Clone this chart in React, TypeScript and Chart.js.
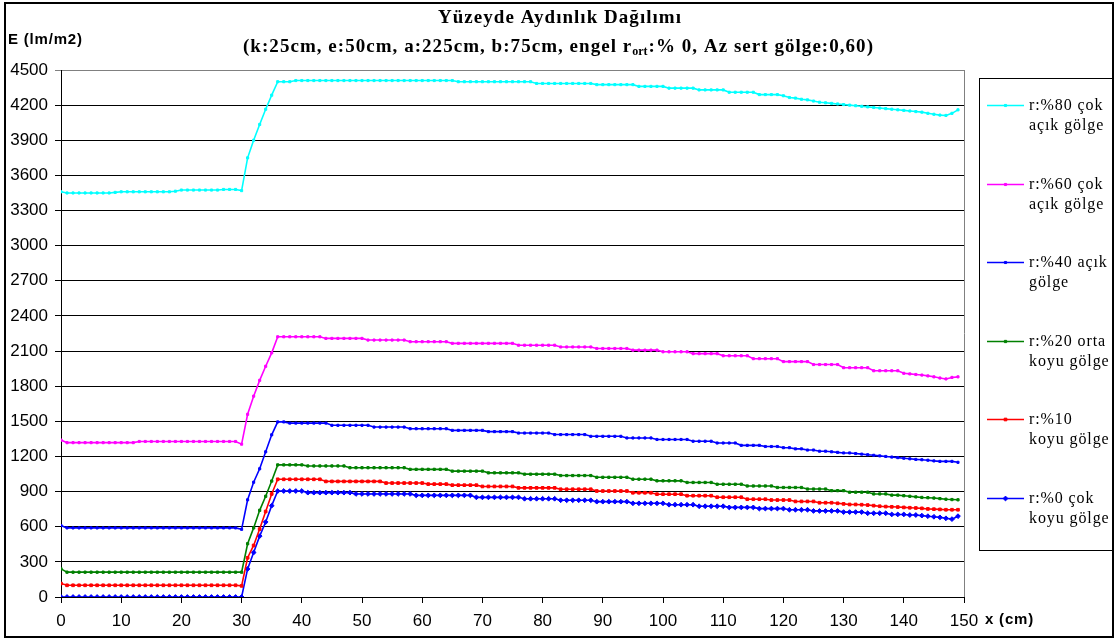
import React, { useEffect, useRef } from "react";
import { Chart, registerables } from "chart.js";

Chart.register(...registerables);

// ---------- DATA ----------
const X_CM = [
  0, 1, 2, 3, 4, 5, 6, 7, 8, 9,
  10, 11, 12, 13, 14, 15, 16, 17, 18, 19,
  20, 21, 22, 23, 24, 25, 26, 27, 28, 29,
  30, 31, 32, 33, 34, 35, 36, 37, 38, 39,
  40, 41, 42, 43, 44, 45, 46, 47, 48, 49,
  50, 51, 52, 53, 54, 55, 56, 57, 58, 59,
  60, 61, 62, 63, 64, 65, 66, 67, 68, 69,
  70, 71, 72, 73, 74, 75, 76, 77, 78, 79,
  80, 81, 82, 83, 84, 85, 86, 87, 88, 89,
  90, 91, 92, 93, 94, 95, 96, 97, 98, 99,
  100, 101, 102, 103, 104, 105, 106, 107, 108, 109,
  110, 111, 112, 113, 114, 115, 116, 117, 118, 119,
  120, 121, 122, 123, 124, 125, 126, 127, 128, 129,
  130, 131, 132, 133, 134, 135, 136, 137, 138, 139,
  140, 141, 142, 143, 144, 145, 146, 147, 148, 149,
];

const E_R80 = [
  3460, 3450, 3450, 3450, 3450, 3450, 3450, 3450, 3450, 3455,
  3460, 3460, 3460, 3460, 3460, 3460, 3460, 3460, 3460, 3465,
  3475, 3475, 3475, 3475, 3475, 3475, 3475, 3480, 3480, 3480,
  3470, 3750, 3900, 4035, 4165, 4285, 4400, 4400, 4400, 4410,
  4410, 4410, 4410, 4410, 4410, 4410, 4410, 4410, 4410, 4410,
  4410, 4410, 4410, 4410, 4410, 4410, 4410, 4410, 4410, 4410,
  4410, 4410, 4410, 4410, 4410, 4410, 4400, 4400, 4400, 4400,
  4400, 4400, 4400, 4400, 4400, 4400, 4400, 4400, 4400, 4385,
  4385, 4385, 4385, 4385, 4385, 4385, 4385, 4385, 4385, 4375,
  4375, 4375, 4375, 4375, 4375, 4375, 4360, 4360, 4360, 4360,
  4360, 4345, 4345, 4345, 4345, 4345, 4330, 4330, 4330, 4330,
  4330, 4310, 4310, 4310, 4310, 4310, 4290, 4290, 4290, 4290,
  4280, 4265, 4260, 4250, 4245, 4235, 4225, 4220, 4215, 4210,
  4205, 4200, 4195, 4190, 4185, 4180, 4175, 4170, 4165, 4160,
  4155, 4150, 4145, 4140, 4130, 4122, 4115, 4112, 4130, 4160,
];

const E_R60 = [
  1340, 1318, 1318, 1318, 1318, 1318, 1318, 1318, 1318, 1318,
  1318, 1318, 1318, 1328, 1328, 1328, 1328, 1328, 1328, 1328,
  1328, 1328, 1328, 1328, 1328, 1328, 1328, 1328, 1328, 1328,
  1305, 1560, 1715, 1850, 1970, 2085, 2222, 2222, 2222, 2222,
  2222, 2222, 2222, 2222, 2208, 2208, 2208, 2208, 2208, 2208,
  2208, 2194, 2194, 2194, 2194, 2194, 2194, 2194, 2180, 2180,
  2180, 2180, 2180, 2180, 2180, 2166, 2166, 2166, 2166, 2166,
  2166, 2166, 2166, 2166, 2166, 2166, 2150, 2150, 2150, 2150,
  2150, 2150, 2150, 2135, 2135, 2135, 2135, 2135, 2135, 2122,
  2122, 2122, 2122, 2122, 2122, 2108, 2108, 2108, 2108, 2108,
  2094, 2094, 2094, 2094, 2094, 2078, 2078, 2078, 2078, 2078,
  2060, 2060, 2060, 2060, 2060, 2035, 2035, 2035, 2035, 2035,
  2010, 2010, 2010, 2010, 2010, 1985, 1985, 1985, 1985, 1985,
  1958, 1958, 1958, 1958, 1958, 1932, 1932, 1932, 1932, 1932,
  1910, 1905, 1900, 1895, 1888, 1880, 1870, 1862, 1875, 1880,
];

const E_R40 = [
  610, 590, 590, 590, 590, 590, 590, 590, 590, 590,
  590, 590, 590, 590, 590, 590, 590, 590, 590, 590,
  590, 590, 590, 590, 590, 590, 590, 590, 590, 590,
  578, 830, 980, 1095, 1240, 1385, 1495, 1495, 1485, 1485,
  1485, 1485, 1485, 1485, 1485, 1466, 1466, 1466, 1466, 1466,
  1466, 1466, 1451, 1451, 1451, 1451, 1451, 1451, 1437, 1437,
  1437, 1437, 1437, 1437, 1437, 1423, 1423, 1423, 1423, 1423,
  1423, 1412, 1412, 1412, 1412, 1412, 1400, 1400, 1400, 1400,
  1400, 1400, 1387, 1387, 1387, 1387, 1387, 1387, 1372, 1372,
  1372, 1372, 1372, 1372, 1358, 1358, 1358, 1358, 1358, 1345,
  1345, 1345, 1345, 1345, 1345, 1330, 1330, 1330, 1330, 1315,
  1315, 1315, 1315, 1295, 1295, 1295, 1295, 1285, 1285, 1285,
  1275, 1275, 1265, 1265, 1255, 1255, 1245, 1245, 1240, 1235,
  1230, 1230, 1225, 1220, 1215, 1210, 1205, 1200, 1195, 1190,
  1185, 1180, 1175, 1172, 1168, 1162, 1158, 1158, 1158, 1150,
];

const E_R20 = [
  240, 212, 212, 212, 212, 212, 212, 212, 212, 212,
  212, 212, 212, 212, 212, 212, 212, 212, 212, 212,
  212, 212, 212, 212, 212, 212, 212, 212, 212, 212,
  212, 455, 590, 740, 860, 990, 1128, 1128, 1128, 1128,
  1128, 1119, 1119, 1119, 1119, 1119, 1119, 1119, 1104, 1104,
  1104, 1104, 1104, 1104, 1104, 1104, 1104, 1104, 1090, 1090,
  1090, 1090, 1090, 1090, 1090, 1075, 1075, 1075, 1075, 1075,
  1075, 1060, 1060, 1060, 1060, 1060, 1060, 1049, 1049, 1049,
  1049, 1049, 1049, 1037, 1037, 1037, 1037, 1037, 1037, 1022,
  1022, 1022, 1022, 1022, 1022, 1006, 1006, 1006, 1006, 992,
  992, 992, 992, 992, 978, 978, 978, 978, 978, 963,
  963, 963, 963, 963, 948, 948, 948, 948, 948, 935,
  935, 935, 935, 935, 922, 922, 922, 922, 908, 908,
  908, 895, 895, 895, 895, 880, 880, 880, 870, 870,
  865, 860, 855, 850, 848, 845, 840, 835, 832, 830,
];

const E_R10 = [
  115, 100, 100, 100, 100, 100, 100, 100, 100, 100,
  100, 100, 100, 100, 100, 100, 100, 100, 100, 100,
  100, 100, 100, 100, 100, 100, 100, 100, 100, 100,
  95, 335, 440, 580, 730, 880, 1005, 1005, 1005, 1005,
  1005, 1005, 1005, 1005, 987, 987, 987, 987, 987, 987,
  987, 987, 987, 987, 973, 973, 973, 973, 973, 973,
  973, 964, 964, 964, 964, 955, 955, 955, 955, 955,
  944, 944, 944, 944, 944, 944, 932, 932, 932, 932,
  932, 932, 932, 920, 920, 920, 920, 920, 920, 905,
  905, 905, 905, 905, 905, 890, 890, 890, 890, 878,
  878, 878, 878, 878, 865, 865, 865, 865, 865, 852,
  852, 852, 852, 852, 835, 835, 835, 835, 828, 828,
  828, 828, 816, 816, 816, 816, 805, 805, 805, 800,
  795, 790, 790, 788, 785, 780, 775, 772, 770, 768,
  765, 762, 760, 757, 752, 750, 748, 745, 745, 745,
];

const E_R0 = [
  0, 0, 0, 0, 0, 0, 0, 0, 0, 0,
  0, 0, 0, 0, 0, 0, 0, 0, 0, 0,
  0, 0, 0, 0, 0, 0, 0, 0, 0, 0,
  0, 240, 380, 520, 640, 780, 905, 905, 905, 905,
  905, 891, 891, 891, 891, 891, 891, 891, 891, 880,
  880, 880, 880, 880, 880, 880, 880, 880, 880, 868,
  868, 868, 868, 868, 868, 868, 868, 868, 868, 851,
  851, 851, 851, 851, 851, 851, 851, 839, 839, 839,
  839, 839, 839, 826, 826, 826, 826, 826, 826, 814,
  814, 814, 814, 814, 814, 800, 800, 800, 800, 800,
  800, 788, 788, 788, 788, 788, 775, 775, 775, 775,
  775, 765, 765, 765, 765, 765, 755, 755, 755, 755,
  755, 745, 745, 745, 745, 735, 735, 735, 735, 735,
  725, 725, 725, 725, 715, 715, 715, 715, 705, 705,
  705, 700, 700, 695, 690, 685, 680, 672, 665, 690,
];

const SERIES_VALUES = [E_R80, E_R60, E_R40, E_R20, E_R10, E_R0];
const SERIES_LABELS = [
  ["r:%80 çok", "açık gölge"],
  ["r:%60 çok", "açık gölge"],
  ["r:%40 açık", "gölge"],
  ["r:%20 orta", "koyu gölge"],
  ["r:%10", "koyu gölge"],
  ["r:%0 çok", "koyu gölge"],
];
const SERIES_COLORS = ["#00FFFF", "#FF00FF", "#0000FF", "#008000", "#FF0000", "#0000FF"];
const SERIES_POINT_STYLE = ["rect", "rect", "rect", "rect", "rect", "rectRot"];
const SERIES_POINT_RADIUS = [1.5, 1.5, 1.5, 1.6, 1.9, 2.4];

const Y_MIN = 0;
const Y_MAX = 4500;
const Y_STEP = 300;
const X_MIN = 0;
const X_MAX = 150;
const X_STEP = 10;

const TITLE_LINE_1 = "Yüzeyde Aydınlık Dağılımı";
const TITLE_LINE_2_A = "(k:25cm, e:50cm, a:225cm, b:75cm, engel r";
const TITLE_LINE_2_SUB = "ort";
const TITLE_LINE_2_B = ":% 0, Az sert gölge:0,60)";
const Y_AXIS_TITLE = "E (lm/m2)";
const X_AXIS_TITLE = "x (cm)";

const SERIF = "'Liberation Serif', 'Times New Roman', serif";
const SANS = "'Liberation Sans', Arial, sans-serif";

function drawMarker(ctx: CanvasRenderingContext2D, style: string, x: number, y: number, r: number, color: string) {
  ctx.fillStyle = color;
  ctx.strokeStyle = color;
  ctx.lineWidth = 1;
  ctx.beginPath();
  if (style === "rectRot") {
    ctx.moveTo(x, y - r);
    ctx.lineTo(x + r, y);
    ctx.lineTo(x, y + r);
    ctx.lineTo(x - r, y);
    ctx.closePath();
  } else {
    const s = r * Math.SQRT1_2;
    ctx.rect(x - s, y - s, 2 * s, 2 * s);
  }
  ctx.fill();
  ctx.stroke();
}

function setSpacing(ctx: CanvasRenderingContext2D, px: number) {
  (ctx as any).letterSpacing = `${px}px`;
}

// letter spacing needed so that `text` in the current font spans `target` px
function spacingFor(ctx: CanvasRenderingContext2D, text: string, target: number) {
  setSpacing(ctx, 0);
  const w = ctx.measureText(text).width;
  return (target - w) / Array.from(text).length;
}

const decorPlugin = {
  id: "decor",
  afterDraw(chart: any) {
    const ctx: CanvasRenderingContext2D = chart.ctx;
    const area = chart.chartArea;
    ctx.save();

    // plot right border (grey)
    ctx.strokeStyle = "#808080";
    ctx.lineWidth = 1;
    ctx.beginPath();
    ctx.moveTo(Math.round(area.right) + 0.5, area.top);
    ctx.lineTo(Math.round(area.right) + 0.5, area.bottom);
    ctx.stroke();

    // outer frame
    ctx.strokeStyle = "#000";
    ctx.lineWidth = 2;
    ctx.strokeRect(5, 3, 1108, 634);

    // titles
    ctx.fillStyle = "#000";
    ctx.textBaseline = "middle";
    ctx.textAlign = "left";
    const BIG = `bold 19px ${SERIF}`;
    const SMALL = `bold 12px ${SERIF}`;
    ctx.font = BIG;
    const ls1 = spacingFor(ctx, TITLE_LINE_1, 244);
    setSpacing(ctx, ls1);
    const w1 = ctx.measureText(TITLE_LINE_1).width;
    ctx.fillText(TITLE_LINE_1, 560 - w1 / 2, 18);

    // line 2: fit whole line (with subscript) to ~630 px
    ctx.font = BIG;
    setSpacing(ctx, 0);
    const wa0 = ctx.measureText(TITLE_LINE_2_A).width;
    const wb0 = ctx.measureText(TITLE_LINE_2_B).width;
    ctx.font = SMALL;
    const ws0 = ctx.measureText(TITLE_LINE_2_SUB).width;
    const nChars = Array.from(TITLE_LINE_2_A + TITLE_LINE_2_B).length;
    const ls2 = Math.max(0, (630 - (wa0 + wb0 + ws0)) / nChars);
    ctx.font = BIG;
    setSpacing(ctx, ls2);
    const wa = ctx.measureText(TITLE_LINE_2_A).width;
    const wb = ctx.measureText(TITLE_LINE_2_B).width;
    ctx.font = SMALL;
    setSpacing(ctx, 0);
    const ws = ctx.measureText(TITLE_LINE_2_SUB).width;
    let x = 558 - (wa + ws + wb) / 2;
    ctx.font = BIG;
    setSpacing(ctx, ls2);
    ctx.fillText(TITLE_LINE_2_A, x, 47);
    x += wa;
    ctx.font = SMALL;
    setSpacing(ctx, 0);
    ctx.fillText(TITLE_LINE_2_SUB, x, 52);
    x += ws + 1;
    ctx.font = BIG;
    setSpacing(ctx, ls2);
    ctx.fillText(TITLE_LINE_2_B, x, 47);

    // axis titles
    ctx.font = `bold 15px ${SANS}`;
    setSpacing(ctx, 0.8);
    ctx.fillText(Y_AXIS_TITLE, 8, 40);
    ctx.fillText(X_AXIS_TITLE, 985, 620);

    // legend
    const lx = 979.5, ly = 78.5, lw = 133, lh = 472;
    ctx.strokeStyle = "#000";
    ctx.lineWidth = 1;
    ctx.strokeRect(lx, ly, lw, lh);
    SERIES_LABELS.forEach((lines, i) => {
      const yy = Math.round(105 + i * 78.6) + 0.5;
      const color = SERIES_COLORS[i];
      ctx.strokeStyle = color;
      ctx.lineWidth = 1.5;
      ctx.beginPath();
      ctx.moveTo(987, yy);
      ctx.lineTo(1024, yy);
      ctx.stroke();
      drawMarker(ctx, SERIES_POINT_STYLE[i], 1005.5, yy, SERIES_POINT_RADIUS[i], color);
      ctx.fillStyle = "#000";
      ctx.font = `16px ${SERIF}`;
      setSpacing(ctx, 0.9);
      ctx.fillText(lines[0], 1029, yy);
      ctx.fillText(lines[1], 1029, yy + 20);
    });

    ctx.restore();
  },
};

export default function App() {
  const canvasRef = useRef<HTMLCanvasElement | null>(null);

  useEffect(() => {
    if (!canvasRef.current) return;
    const datasets = SERIES_VALUES.map((vals, i) => ({
      label: SERIES_LABELS[i].join(" "),
      data: X_CM.map((x, j) => ({ x, y: vals[j] })),
      borderColor: SERIES_COLORS[i],
      backgroundColor: SERIES_COLORS[i],
      borderWidth: 1.6,
      pointStyle: SERIES_POINT_STYLE[i] as any,
      pointRadius: SERIES_POINT_RADIUS[i],
      pointBorderWidth: 1,
      pointBorderColor: SERIES_COLORS[i],
      pointBackgroundColor: SERIES_COLORS[i],
      tension: 0,
      fill: false,
    }));

    const chart = new Chart(canvasRef.current, {
      type: "line",
      data: { datasets },
      options: {
        animation: false,
        responsive: false,
        devicePixelRatio: 1,
        layout: { padding: { left: 0, right: 154, top: 70, bottom: 0 } },
        plugins: {
          legend: { display: false },
          title: { display: false },
          tooltip: { enabled: false },
        },
        scales: {
          x: {
            type: "linear",
            min: X_MIN,
            max: X_MAX,
            ticks: {
              stepSize: X_STEP,
              autoSkip: false,
              color: "#000",
              font: { family: SANS, size: 17 },
              padding: 8,
              maxRotation: 0,
              callback: (v: any) => String(v),
            },
            grid: {
              drawOnChartArea: false,
              drawTicks: true,
              tickLength: 6,
              color: "#000",
            },
            border: { color: "#000", width: 1 },
            afterFit: (s: any) => {
              s.height = 43;
            },
          },
          y: {
            type: "linear",
            min: Y_MIN,
            max: Y_MAX,
            ticks: {
              stepSize: Y_STEP,
              autoSkip: false,
              color: "#000",
              font: { family: SANS, size: 17 },
              padding: 7,
              callback: (v: any) => String(v),
            },
            grid: {
              color: (c: any) => (c.tick && c.tick.value === Y_MAX ? "#808080" : "#000"),
              tickLength: 6,
              lineWidth: 1,
            },
            border: { color: "#000", width: 1 },
            afterFit: (s: any) => {
              s.width = 61;
            },
          },
        },
      },
      plugins: [decorPlugin],
    });
    return () => chart.destroy();
  }, []);

  return (
    <div style={{ position: "absolute", left: 0, top: 0, width: 1118, height: 640, background: "#fff" }}>
      <canvas ref={canvasRef} width={1118} height={640} style={{ display: "block" }} />
    </div>
  );
}
